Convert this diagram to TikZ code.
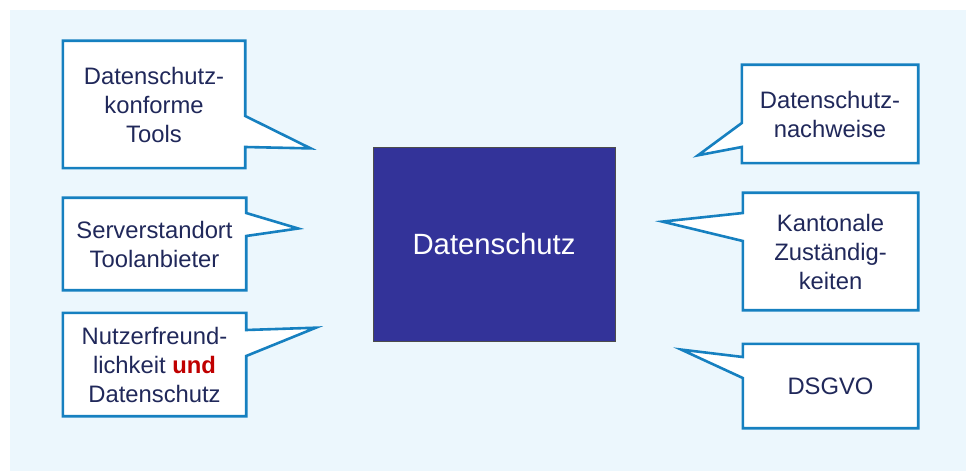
\documentclass[tikz,border=0pt]{standalone}
\usepackage{fontspec}
\setmainfont{Liberation Sans}
\usetikzlibrary{backgrounds}
\definecolor{bgblue}{RGB}{236,247,253}
\definecolor{lineblue}{RGB}{22,128,192}
\definecolor{navy}{RGB}{32,40,90}
\definecolor{core}{RGB}{51,51,153}
\definecolor{undred}{RGB}{192,0,0}
\tikzset{
  txt/.style={inner sep=0pt, align=center, text=navy,
    font=\fontsize{23.8}{29}\selectfont},
  callout/.style={draw=lineblue, line width=2.6pt, fill=white, line join=miter},
}
\begin{document}
\begin{tikzpicture}[x=1pt,y=-1pt]
\useasboundingbox (0,0) rectangle (966,473);
% text nodes
\node[txt, minimum width=182, minimum height=127] (t1) at (154,104.5) {Datenschutz-\\konforme\\Tools};
\node[txt, minimum width=183, minimum height=92] (t2) at (154.5,244) {Serverstandort\\Toolanbieter};
\node[txt, minimum width=183, minimum height=103] (t3) at (154.5,364.5) {Nutzerfreund-\\lichkeit \textbf{\textcolor{undred}{und}}\\Datenschutz};
\node[txt, minimum width=176, minimum height=98] (t4) at (830,114) {Datenschutz-\\nachweise};
\node[txt, minimum width=175, minimum height=117] (t5) at (830.5,251.5) {Kantonale\\Zuständig-\\keiten};
\node[txt, minimum width=175, minimum height=84] (t6) at (830.5,386) {DSGVO};
\node[draw=black!70, line width=0.8pt, fill=core, text=white, inner sep=0pt,
  minimum width=242, minimum height=194, font=\fontsize{29.3}{35}\selectfont] (core) at (494,244) {Datenschutz};
% pointer tips
\coordinate (p1) at (310.7,148.4);
\coordinate (p2) at (298.2,228.5);
\coordinate (p3) at (315.9,327.7);
\coordinate (p4) at (698,155.3);
\coordinate (p5) at (662.4,221.6);
\coordinate (p6) at (681.2,349.6);
\begin{scope}[on background layer]
\fill[bgblue] (10,10) rectangle (966,471);
\draw[callout] (t1.north west) -- (t1.north east) -- (t1.east |- 0,116) -- (p1) -- (t1.east |- 0,147) -- (t1.south east) -- (t1.south west) -- cycle;
\draw[callout] (t2.north west) -- (t2.north east) -- (t2.east |- 0,213) -- (p2) -- (t2.east |- 0,236) -- (t2.south east) -- (t2.south west) -- cycle;
\draw[callout] (t3.north west) -- (t3.north east) -- (t3.east |- 0,330) -- (p3) -- (t3.east |- 0,356) -- (t3.south east) -- (t3.south west) -- cycle;
\draw[callout] (t4.north east) -- (t4.north west) -- (t4.west |- 0,123) -- (p4) -- (t4.west |- 0,147) -- (t4.south west) -- (t4.south east) -- cycle;
\draw[callout] (t5.north east) -- (t5.north west) -- (t5.west |- 0,213) -- (p5) -- (t5.west |- 0,241) -- (t5.south west) -- (t5.south east) -- cycle;
\draw[callout] (t6.north east) -- (t6.north west) -- (t6.west |- 0,357) -- (p6) -- (t6.west |- 0,378) -- (t6.south west) -- (t6.south east) -- cycle;
\end{scope}
\end{tikzpicture}
\end{document}
